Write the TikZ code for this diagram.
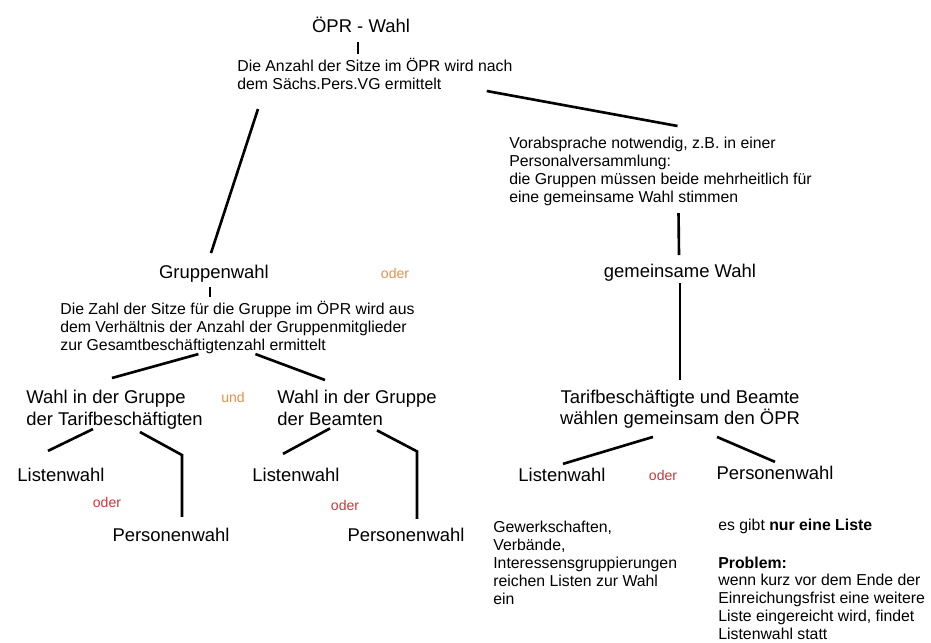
\documentclass[tikz,border=0pt]{standalone}
\usepackage{fontspec}
\setmainfont{Liberation Sans}
\definecolor{orng}{HTML}{E8904A}
\definecolor{rd}{HTML}{C8373B}
\begin{document}
\begin{tikzpicture}[x=0.02cm, y=-0.02cm]
        \tikzstyle{big}=[inner sep=0pt, font=\fontsize{10.5}{12}\selectfont]
        \tikzstyle{txt}=[inner sep=0pt, anchor=north west, align=left, font=\fontsize{9}{10.2}\selectfont]
        \tikzstyle{sml}=[inner sep=0pt, font=\fontsize{8}{9}\selectfont]
        \tikzstyle{con}=[line width=1.5pt]

        \useasboundingbox (0,0) rectangle (931,643);

        \node[big] (t) at (361,25) {ÖPR - Wahl};
        \node[txt] (a) at (237,58) {Die Anzahl der Sitze im ÖPR wird nach\\dem Sächs.Pers.VG ermittelt};
        \node[txt] (b) at (509,137) {Vorabsprache notwendig, z.B. in einer\\Personalversammlung:\\die Gruppen müssen beide mehrheitlich für\\eine gemeinsame Wahl stimmen};

        % linker Zweig
        \node[big] (g) at (214,274) {Gruppenwahl};
        \node[sml, text=orng] (o1) at (395,273) {oder};
        \node[txt] (z) at (60,301) {Die Zahl der Sitze für die Gruppe im ÖPR wird aus\\dem Verhältnis der Anzahl der Gruppenmitglieder\\zur Gesamtbeschäftigtenzahl ermittelt};
        \node[big, anchor=north west, align=left] (wt) at (26,390) {Wahl in der Gruppe\\[0.6pt]der Tarifbeschäftigten};
        \node[sml, text=orng] (u) at (233,397) {und};
        \node[big, anchor=north west, align=left] (wb) at (277,390) {Wahl in der Gruppe\\[0.6pt]der Beamten};
        \node[big] (l1) at (61,475) {Listenwahl};
        \node[sml, text=rd] (o2) at (107,502) {oder};
        \node[big] (p1) at (171,535) {Personenwahl};
        \node[big] (l2) at (296,475) {Listenwahl};
        \node[sml, text=rd] (o3) at (345,505) {oder};
        \node[big] (p2) at (406,535) {Personenwahl};

        % rechter Zweig
        \node[big] (gw) at (680,273) {gemeinsame Wahl};
        \node[big, anchor=north, align=center, font=\fontsize{10.5}{10.2}\selectfont] (tb) at (680,390) {Tarifbeschäftigte und Beamte\\wählen gemeinsam den ÖPR};
        \node[big] (l3) at (562,475) {Listenwahl};
        \node[sml, text=rd] (o4) at (663,475) {oder};
        \node[big] (p3) at (775,473) {Personenwahl};
        \node[txt] (gk) at (493,521) {Gewerkschaften,\\Verbände,\\Interessensgruppierungen\\reichen Listen zur Wahl\\ein};
        \node[txt] (pr) at (718,519) {es gibt \textbf{nur eine Liste}\\[11pt]\textbf{Problem:}\\wenn kurz vor dem Ende der\\Einreichungsfrist eine weitere\\Liste eingereicht wird, findet\\Listenwahl statt};

        \draw[con] ([shift={(-3,9)}]t.south) -- ++(0,12);
        \draw[con] ([shift={(-26,1)}]a.south east) -- ([shift={(17,-11)}]b.north);
        \draw[con] ([shift={(21,19)}]a.south west) -- ([shift={(-3,-12)}]g.north);
        \draw[con] ([shift={(18,7)}]b.south) -- ([shift={(-1,-9)}]gw.north);
        \draw[con] ([shift={(0,1)}]gw.south) -- ([shift={(0,-10)}]tb.north);

        \draw[con] ([shift={(-4,4)}]g.south) -- ++(0,10);
        \draw[con] ([shift={(-39,0)}]z.south) -- ([shift={(86,-12)}]wt.north west);
        \draw[con] ([shift={(18,0)}]z.south) -- ([shift={(48,-10)}]wb.north west);
        \draw[con] ([shift={(67,-1)}]wt.south west) -- ([shift={(-13,-17)}]l1.north);
        \draw[con] ([shift={(114,2)}]wt.south west) -- ++(42,23) -- ([shift={(11,-11)}]p1.north);
        \draw[con] ([shift={(53,2)}]wb.south west) -- ([shift={(-13,-14)}]l2.north);
        \draw[con] ([shift={(100,4)}]wb.south west) -- ++(40,21) -- ([shift={(11,-9)}]p2.north);

        \draw[con] ([shift={(-27,8)}]tb.south) -- ([shift={(1,-4)}]l3.north);
        \draw[con] ([shift={(37,8)}]tb.south) -- ([shift={(0,-4)}]p3.north);
    \end{tikzpicture}
\end{document}
